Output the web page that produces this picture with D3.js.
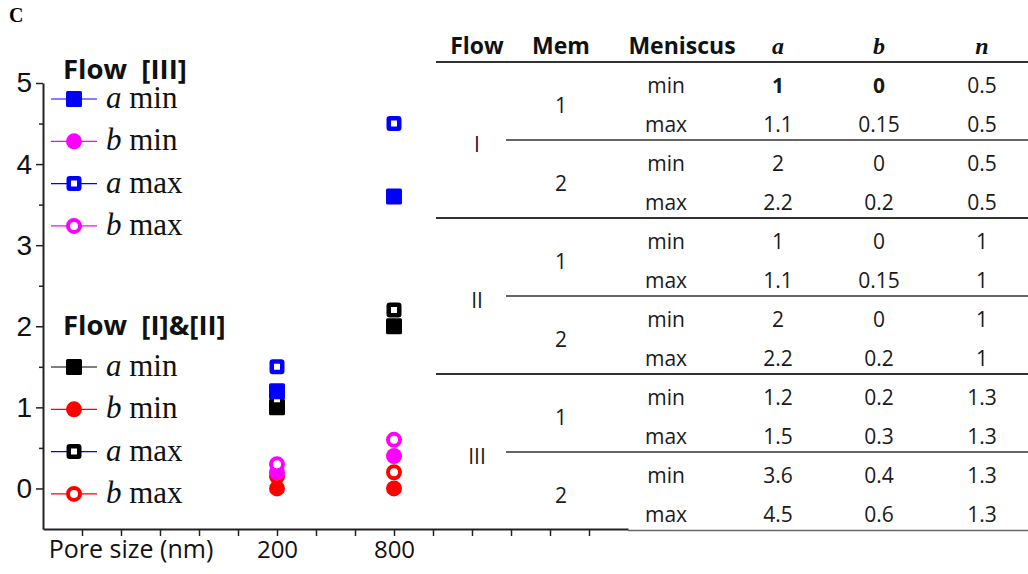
<!DOCTYPE html>
<html>
<head>
<meta charset="utf-8">
<script src="https://cdn.jsdelivr.net/npm/d3@7"></script>
<style>
  body { margin: 0; background: #fff; }
  svg { display: block; }
</style>
</head>
<body>
<script>
// pore size categories and the points plotted at them (x index on the tick grid)
var poreSizes = ["200", "800"];
var poreIndex = [5, 8];

// Flow [I]&[II]
var aMinI = [1, 2];
var bMinI = [0, 0];
var aMaxI = [1.1, 2.2];
var bMaxI = [0.15, 0.2];
// Flow [III]
var aMinIII = [1.2, 3.6];
var bMinIII = [0.2, 0.4];
var aMaxIII = [1.5, 4.5];
var bMaxIII = [0.3, 0.6];

var yTicks = [0, 1, 2, 3, 4, 5];

// table columns
var tableHead = ["Flow", "Mem", "Meniscus", "a", "b", "n"];
var flowNames = ["I", "II", "III"];
var memNames = ["1", "2"];
var meniscus = ["min", "max"];
var colA = ["1", "1.1", "2", "2.2", "1", "1.1", "2", "2.2", "1.2", "1.5", "3.6", "4.5"];
var colB = ["0", "0.15", "0", "0.2", "0", "0.15", "0", "0.2", "0.2", "0.3", "0.4", "0.6"];
var colN = ["0.5", "0.5", "0.5", "0.5", "1", "1", "1", "1", "1.3", "1.3", "1.3", "1.3"];

var W = 1028, H = 574;
var svg = d3.select("body").append("svg").attr("width", W).attr("height", H);

var sans = "'Open Sans', 'Noto Sans', sans-serif";
var serif = "'Liberation Serif', 'Times New Roman', serif";

// panel letter
svg.append("text").attr("x", 9).attr("y", 22)
  .style("font-family", serif).style("font-weight", "bold").style("font-size", "20px")
  .text("C");

// scales
var x = d3.scaleLinear().domain([-1, 14]).range([43, 628]);
var y = d3.scaleLinear().domain([-0.5, 5]).range([529, 83]);

// y axis, major + minor ticks
var yAxis = svg.append("g").attr("transform", "translate(43,0)")
  .call(d3.axisLeft(y).tickValues(yTicks).tickFormat(d3.format("d")).tickSize(7).tickSizeOuter(0).tickPadding(4));
yAxis.select(".domain").attr("stroke", "#222").attr("stroke-width", 2);
yAxis.selectAll(".tick line").attr("stroke", "#222").attr("stroke-width", 1.5);
yAxis.selectAll(".tick text")
  .style("font-family", "'Liberation Sans', Arial, sans-serif").style("font-size", "28px").attr("fill", "#111");
svg.append("g").attr("transform", "translate(43,0)")
  .call(d3.axisLeft(y).tickValues([0.5, 1.5, 2.5, 3.5, 4.5]).tickSize(4).tickSizeOuter(0).tickFormat(""))
  .call(function (g) {
    g.select(".domain").remove();
    g.selectAll(".tick line").attr("stroke", "#222").attr("stroke-width", 1.5);
  });

// x axis
var xAxis = svg.append("g").attr("transform", "translate(0,529)")
  .call(d3.axisBottom(x).tickValues(d3.range(0, 14)).tickSize(7).tickSizeOuter(0).tickPadding(5)
    .tickFormat(function (k) { var i = poreIndex.indexOf(k); return i >= 0 ? poreSizes[i] : ""; }));
xAxis.select(".domain").attr("stroke", "#222").attr("stroke-width", 2);
xAxis.selectAll(".tick line").attr("stroke", "#222").attr("stroke-width", 1.5);
xAxis.selectAll(".tick text")
  .style("font-family", sans).style("font-size", "24px").attr("fill", "#111");
svg.append("text").attr("x", 131).attr("y", 558).attr("text-anchor", "middle")
  .style("font-family", sans).style("font-size", "25px").attr("fill", "#111")
  .text("Pore size (nm)");

// series, in drawing order
var series = [
  { key: "a", tag: " min", vals: aMinI, color: "#000", line: "#000", shape: "square", filled: true },
  { key: "b", tag: " min", vals: bMinI, color: "#ff0000", line: "#ff0000", shape: "circle", filled: true },
  { key: "a", tag: " max", vals: aMaxI, color: "#000", line: "#0000ff", shape: "square", filled: false },
  { key: "b", tag: " max", vals: bMaxI, color: "#ff0000", line: "#ff0000", shape: "circle", filled: false },
  { key: "a", tag: " min", vals: aMinIII, color: "#0000ff", line: "#0000ff", shape: "square", filled: true },
  { key: "b", tag: " min", vals: bMinIII, color: "#ff00ff", line: "#ff00ff", shape: "circle", filled: true },
  { key: "a", tag: " max", vals: aMaxIII, color: "#0000ff", line: "#0000ff", shape: "square", filled: false },
  { key: "b", tag: " max", vals: bMaxIII, color: "#ff00ff", line: "#ff00ff", shape: "circle", filled: false }
];

function marker(g, s, cx, cy) {
  if (s.shape === "square") {
    var sz = s.filled ? 16 : 10.5;
    g.append("rect").attr("x", cx - sz / 2).attr("y", cy - sz / 2).attr("width", sz).attr("height", sz)
      .attr("rx", s.filled ? 1.5 : 1)
      .attr("fill", s.filled ? s.color : "#fff")
      .attr("stroke", s.filled ? "none" : s.color).attr("stroke-width", 4.5);
  } else {
    g.append("circle").attr("cx", cx).attr("cy", cy).attr("r", s.filled ? 8 : 6)
      .attr("fill", s.filled ? s.color : "#fff")
      .attr("stroke", s.filled ? "none" : s.color).attr("stroke-width", 4);
  }
}

var pts = svg.append("g");
series.forEach(function (s) {
  s.vals.forEach(function (v, i) { marker(pts, s, x(poreIndex[i]), y(v)); });
});

// legends
function legend(title, items, titleY, rowY) {
  var g = svg.append("g");
  g.append("text").attr("x", 63).attr("y", titleY)
    .style("font-family", sans).style("font-weight", "bold").style("font-size", "27.5px").attr("fill", "#111")
    .attr("xml:space", "preserve").text(title);
  items.forEach(function (s, i) {
    var cy = rowY + i * 42.3;
    g.append("line").attr("x1", 51).attr("x2", 97).attr("y1", cy).attr("y2", cy)
      .attr("stroke", s.line).attr("stroke-width", 1.2);
    marker(g, s, 74, cy);
    var t = g.append("text").attr("x", 106).attr("y", cy + 9)
      .style("font-family", serif).style("font-size", "31px").attr("fill", "#111");
    t.append("tspan").style("font-style", "italic").text(s.key);
    t.append("tspan").text(s.tag);
  });
}
legend("Flow  [III]", series.slice(4), 79, 99);
legend("Flow  [I]&[II]", series.slice(0, 4), 335, 367);

// table
var colX = [477, 561, 666, 778, 879, 982];
var headX = [477, 561, 682, 778, 879, 982];
var tableTop = 62, rowH = 39;
var tg = svg.append("g");
tableHead.forEach(function (h, i) {
  var italic = i >= 3;
  tg.append("text").attr("x", headX[i]).attr("y", 54).attr("text-anchor", "middle")
    .style("font-family", italic ? serif : sans).style("font-style", italic ? "italic" : "normal")
    .style("font-weight", "bold").style("font-size", italic ? "24px" : "23px").attr("fill", "#111")
    .text(h);
});
function hline(y0, x0, w, c) {
  tg.append("line").attr("x1", x0).attr("x2", 1028).attr("y1", y0).attr("y2", y0)
    .attr("stroke", c || "#333").attr("stroke-width", w);
}
hline(tableTop, 436, 2);
function cell(txt, cx, cy, bold) {
  tg.append("text").attr("x", cx).attr("y", cy).attr("text-anchor", "middle").attr("dy", "0.36em")
    .style("font-family", sans).style("font-size", "21px").style("font-weight", bold ? "bold" : "normal")
    .attr("fill", "#1a1a1a").text(txt);
}
flowNames.forEach(function (f, fi) {
  var g0 = tableTop + fi * 4 * rowH;
  cell(f, colX[0], g0 + 2 * rowH + 4);
  memNames.forEach(function (m, mi) {
    var m0 = g0 + mi * 2 * rowH;
    cell(m, colX[1], m0 + rowH + 4);
    meniscus.forEach(function (mn, ni) {
      var r = fi * 4 + mi * 2 + ni;
      var cy = m0 + ni * rowH + rowH / 2 + 4;
      cell(mn, colX[2], cy);
      cell(colA[r], colX[3], cy, r === 0);
      cell(colB[r], colX[4], cy, r === 0);
      cell(colN[r], colX[5], cy);
    });
  });
  hline(g0 + 2 * rowH, 506, 1.6);
  if (fi < 2) hline(g0 + 4 * rowH, 436, 2);
});
hline(tableTop + 12 * rowH + 0.5, 628, 1.5, "#666");
</script>
</body>
</html>
